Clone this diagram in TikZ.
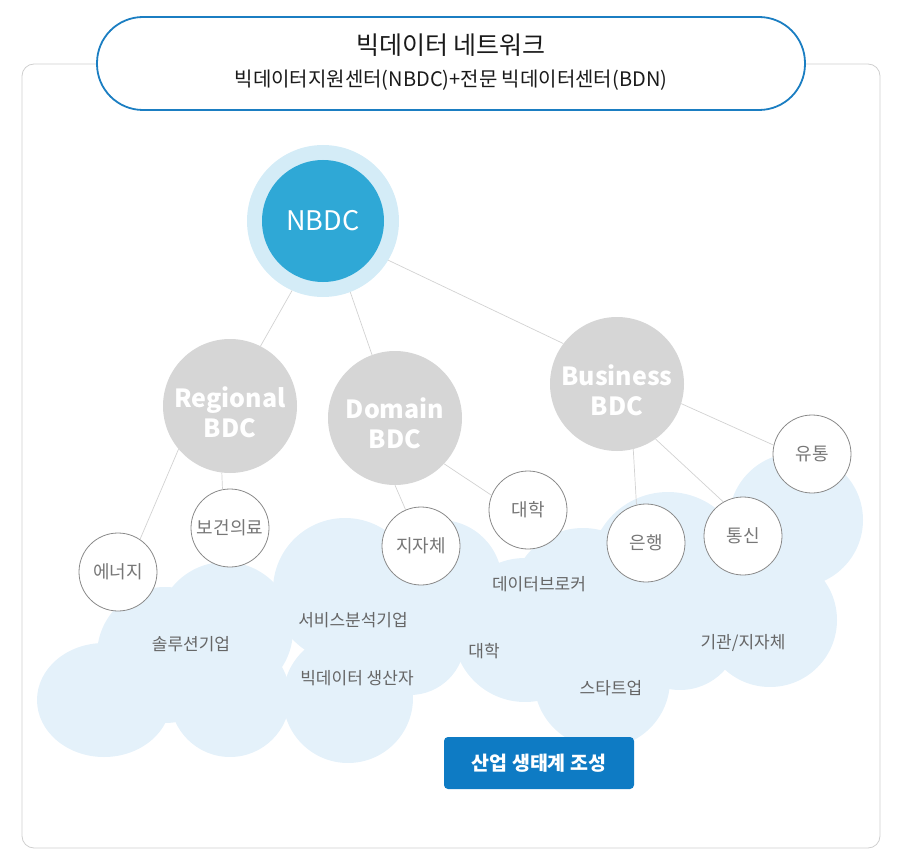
\documentclass[tikz,border=0pt]{standalone}
\usepackage{fontspec}
\setmainfont{Noto Sans CJK KR}
\definecolor{cloudblue}{HTML}{E4F1FA}
\definecolor{bdcgray}{HTML}{D6D6D6}
\definecolor{nbdcouter}{HTML}{D4ECF7}
\definecolor{nbdcinner}{HTML}{2FA8D6}
\definecolor{leafborder}{HTML}{8A8A8A}
\definecolor{leaftext}{HTML}{777777}
\definecolor{cloudtext}{HTML}{666666}
\definecolor{linkgray}{HTML}{D2D2D2}
\definecolor{pillblue}{HTML}{1B7EC2}
\definecolor{btnblue}{HTML}{0E7BC4}
\definecolor{framegray}{HTML}{CFCFCF}
\definecolor{titletext}{HTML}{1A1A1A}
\begin{document}
\begin{tikzpicture}[x=1pt,y=-1pt,
  cloudc/.style={fill=cloudblue, draw=none},
  bdc/.style={circle, fill=bdcgray, minimum size=134pt, inner sep=0pt},
  bdctext/.style={inner sep=0pt, text=white, font=\bfseries\fontsize{25}{30}\selectfont, align=center},
  leaf/.style={circle, draw=leafborder, fill=white, line width=0.8pt, minimum size=78pt, inner sep=0pt, text=leaftext, font=\fontsize{18}{20}\selectfont},
  link/.style={draw=linkgray, line width=0.7pt},
  cloudlabel/.style={text=cloudtext, font=\fontsize{17}{19}\selectfont, inner sep=0pt}]
\useasboundingbox (0,0) rectangle (908,864);
% frame
\draw[framegray, line width=0.8pt, rounded corners=12pt] (22,64) rectangle (880,848);
% cloud
\fill[cloudc] (104,700) ellipse [x radius=67pt, y radius=57pt];
\fill[cloudc] (165,655) circle (68pt);
\fill[cloudc] (225,630) circle (68pt);
\fill[cloudc] (230,697) circle (60pt);
\fill[cloudc] (345,590) circle (72pt);
\fill[cloudc] (348,698) circle (65pt);
\fill[cloudc] (410,640) circle (55pt);
\fill[cloudc] (440,582) circle (62pt);
\fill[cloudc] (525,630) circle (72pt);
\fill[cloudc] (583,600) circle (72pt);
\fill[cloudc] (602,680) circle (68pt);
\fill[cloudc] (668,570) circle (78pt);
\fill[cloudc] (680,630) circle (60pt);
\fill[cloudc] (770,620) circle (67pt);
\fill[cloudc] (796,520) circle (67pt);
\fill[cloudc] (730,580) circle (50pt);
% NBDC
\node[circle, fill=nbdcouter, minimum size=152pt, inner sep=0pt] (nbdcout) at (323,221) {};
\node[circle, fill=nbdcinner, minimum size=122pt, inner sep=0pt, text=white, font=\fontsize{27}{30}\selectfont] (nbdc) at (323,221) {NBDC};
% BDCs
\node[bdc] (reg) at (230,406) {};
\node[bdc] (dom) at (395,418) {};
\node[bdc] (bus) at (617,384) {};
\node[bdctext] (regt) at (230,412) {Regional\\BDC};
\node[bdctext] (domt) at (395,423) {Domain\\BDC};
\node[bdctext] (bust) at (617,390) {Business\\BDC};
% leaves
\node[leaf] (energy) at (118,572) {에너지};
\node[leaf] (health) at (230,528) {보건의료};
\node[leaf] (local) at (421,546) {지자체};
\node[leaf] (univ) at (528,510) {대학};
\node[leaf] (bank) at (646,543) {은행};
\node[leaf] (tel) at (743,536) {통신};
\node[leaf] (dist) at (812,454) {유통};
% links
\draw[link] (nbdcout.246) -- (reg.63);
\draw[link] (nbdcout.291) -- (dom.110);
\draw[link] (nbdcout.329) -- (bus.143);
\draw[link] (reg.220) -- (energy.56);
\draw[link] (reg.263) -- (health.101);
\draw[link] (dom.270) -- (local.113);
\draw[link] (dom.317) -- (univ.158);
\draw[link] (bus.284) -- (bank.104);
\draw[link] (bus.305) -- (tel.120);
\draw[link] (bus.343) -- (dist.167);
% cloud labels
\node[cloudlabel] (c1) at (191,644) {솔루션기업};
\node[cloudlabel] (c2) at (353,620) {서비스분석기업};
\node[cloudlabel] (c3) at (357,678) {빅데이터 생산자};
\node[cloudlabel] (c4) at (484,651) {대학};
\node[cloudlabel] (c5) at (539,584) {데이터브로커};
\node[cloudlabel] (c6) at (611,688) {스타트업};
\node[cloudlabel] (c7) at (743,643) {기관/지자체};
% title pill
\node[draw=pillblue, line width=1.8pt, fill=white, rounded corners=46pt, minimum width=708pt, minimum height=93pt, inner sep=0pt] (pill) at (451,63.5) {};
\node[text=titletext, font=\fontsize{25}{28}\selectfont, inner sep=0pt] (t1) at (451,45) {빅데이터 네트워크};
\node[text=titletext, font=\fontsize{20}{23}\selectfont, inner sep=0pt] (t2) at (451,80) {빅데이터지원센터(NBDC)+전문 빅데이터센터(BDN)};
% button
\node[fill=btnblue, rounded corners=4pt, minimum width=190pt, minimum height=52pt, inner sep=0pt, text=white, font=\bfseries\fontsize{19.5}{22}\selectfont] (btn) at (539,763) {산업 생태계 조성};
\end{tikzpicture}
\end{document}
